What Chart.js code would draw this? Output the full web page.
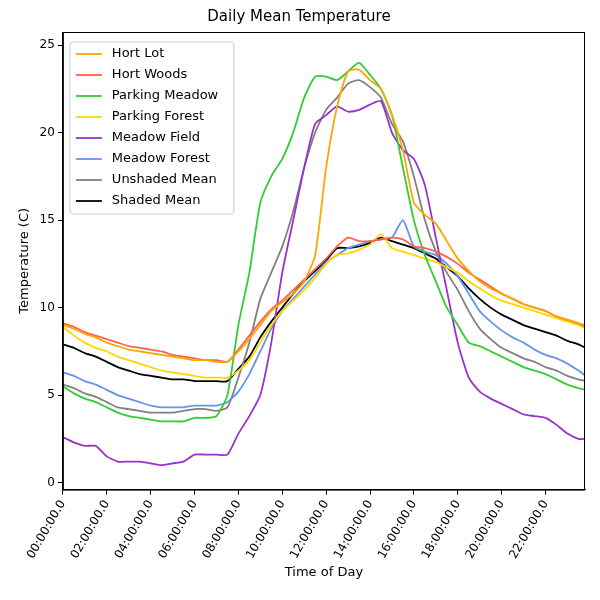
<!DOCTYPE html>
<html>
<head>
<meta charset="utf-8">
<script src="https://cdn.jsdelivr.net/npm/chart.js"></script>
<style>
  html, body { margin: 0; padding: 0; background: #fff; }
  #wrap { width: 600px; height: 600px; }
</style>
</head>
<body>
<div id="wrap"><canvas id="c" width="600" height="600"></canvas></div>
<script>
// half-hour samples, hours since midnight
const hours = [];
for (let i = 0; i < 48; i++) hours.push(i / 2);
hours.push(23.83);

const hortLot = [9.0,8.8,8.5,8.3,8.0,7.8,7.6,7.5,7.4,7.3,7.2,7.1,7.0,7.0,6.9,6.9,7.5,8.2,9.0,9.8,10.3,10.8,11.5,13.0,18.0,21.5,23.5,23.6,23.0,22.5,21.0,19.0,16.0,15.3,14.8,13.8,12.8,12.1,11.5,11.1,10.8,10.5,10.2,10.0,9.8,9.5,9.3,9.1,9.0];
const hortWoods = [9.1,8.9,8.6,8.4,8.2,8.0,7.8,7.7,7.6,7.5,7.3,7.2,7.1,7.0,7.0,6.9,7.6,8.4,9.2,9.9,10.4,11.0,11.6,12.2,12.8,13.5,14.0,13.8,13.8,13.9,14.0,13.9,13.5,13.4,13.2,12.9,12.5,12.0,11.6,11.2,10.8,10.5,10.2,10.0,9.8,9.5,9.3,9.1,8.9];
const parkingMeadow = [5.5,5.1,4.8,4.6,4.3,4.0,3.8,3.7,3.6,3.5,3.5,3.5,3.7,3.7,3.8,5.0,9.0,12.0,16.0,17.5,18.5,20.0,22.0,23.2,23.2,23.0,23.5,24.0,23.3,22.5,21.0,18.0,15.0,13.0,11.5,10.0,9.0,8.0,7.8,7.5,7.2,6.9,6.6,6.4,6.2,5.9,5.6,5.4,5.3];
const parkingForest = [8.9,8.4,8.0,7.7,7.5,7.2,7.0,6.8,6.6,6.4,6.3,6.2,6.1,6.0,6.0,6.0,6.4,7.0,8.0,9.0,9.8,10.4,11.0,11.7,12.5,13.0,13.1,13.3,13.6,14.2,13.4,13.2,13.0,12.8,12.6,12.3,12.0,11.5,11.1,10.7,10.4,10.2,10.0,9.8,9.6,9.4,9.2,9.0,8.8];
const meadowField = [2.6,2.3,2.1,2.1,1.5,1.2,1.2,1.2,1.1,1.0,1.1,1.2,1.6,1.6,1.6,1.6,2.8,3.8,5.0,8.0,12.0,15.0,18.0,20.5,21.0,21.5,21.2,21.3,21.6,21.8,20.0,19.0,18.5,17.0,14.0,11.0,8.0,6.0,5.2,4.8,4.5,4.2,3.9,3.8,3.7,3.3,2.8,2.5,2.5];
const meadowForest = [6.3,6.1,5.8,5.6,5.3,5.0,4.8,4.6,4.4,4.3,4.3,4.3,4.4,4.4,4.4,4.6,5.2,6.2,7.5,8.8,9.8,10.5,11.2,11.9,12.6,13.0,13.4,13.6,13.8,13.9,14.0,15.0,13.5,13.2,13.0,12.5,11.8,10.8,9.8,9.2,8.7,8.3,8.0,7.6,7.3,7.1,6.8,6.4,6.1];
const unshadedMean = [5.6,5.4,5.1,4.9,4.6,4.3,4.2,4.1,4.0,4.0,4.0,4.1,4.2,4.2,4.1,4.3,6.0,8.0,10.5,12.0,13.5,15.5,18.0,20.0,21.3,22.0,22.8,23.0,22.6,22.0,20.5,19.5,17.5,15.0,13.2,12.0,11.0,9.8,8.8,8.2,7.7,7.4,7.1,6.9,6.6,6.4,6.1,5.9,5.8];
const shadedMean = [7.9,7.7,7.4,7.2,6.9,6.6,6.4,6.2,6.1,6.0,5.9,5.9,5.8,5.8,5.8,5.8,6.5,7.2,8.3,9.2,10.0,10.8,11.5,12.1,12.7,13.4,13.4,13.5,13.7,14.0,13.8,13.6,13.4,13.1,12.8,12.3,11.8,11.1,10.5,10.0,9.6,9.3,9.0,8.8,8.6,8.4,8.1,7.9,7.7];

const seriesNames = ['Hort Lot','Hort Woods','Parking Meadow','Parking Forest','Meadow Field','Meadow Forest','Unshaded Mean','Shaded Mean'];
const seriesData = [hortLot, hortWoods, parkingMeadow, parkingForest, meadowField, meadowForest, unshadedMean, shadedMean];
const seriesColors = ['#ffa500','#ff6347','#32cd32','#ffd700','#9932cc','#6495ed','#808080','#000000'];
const xTicks = [0,2,4,6,8,10,12,14,16,18,20,22];

const FONT = 'DejaVu Sans';
Chart.defaults.font.family = FONT;
Chart.defaults.color = '#000';

// matplotlib-style legend inside the plot, upper left, plus full frame
const innerLegend = {
  id: 'innerLegend',
  afterDraw(chart){
    const ctx = chart.ctx, a = chart.chartArea;
    ctx.save();
    ctx.strokeStyle = '#000'; ctx.lineWidth = 1;
    ctx.strokeRect(a.left + 0.5, a.top + 0.5, a.right - a.left - 1, a.bottom - a.top);
    const x0 = a.left + 7, y0 = a.top + 10, rowH = 21, w = 164;
    const h = rowH * seriesNames.length + 4;
    ctx.fillStyle = 'rgba(255,255,255,0.8)';
    ctx.strokeStyle = '#ccc';
    ctx.beginPath();
    ctx.roundRect(x0, y0, w, h, 3);
    ctx.fill(); ctx.stroke();
    ctx.font = '13px ' + FONT;
    ctx.textBaseline = 'middle';
    seriesNames.forEach((n, i) => {
      const y = y0 + 12 + i * rowH;
      ctx.strokeStyle = seriesColors[i];
      ctx.lineWidth = 1.8;
      ctx.beginPath(); ctx.moveTo(x0 + 6, y); ctx.lineTo(x0 + 32, y); ctx.stroke();
      ctx.fillStyle = '#000';
      ctx.fillText(n, x0 + 42, y);
    });
    ctx.restore();
  }
};

new Chart(document.getElementById('c'), {
  type: 'line',
  data: {
    datasets: seriesNames.map((n, i) => ({
      label: n,
      data: seriesData[i].map((v, j) => ({x: hours[j], y: v})),
      borderColor: seriesColors[i],
      borderWidth: 1.8,
      pointRadius: 0,
      tension: 0.2,
      fill: false
    }))
  },
  options: {
    responsive: false,
    animation: false,
    layout: { padding: { left: 13, right: 15, top: 6, bottom: 16 } },
    plugins: {
      legend: { display: false },
      tooltip: { enabled: false },
      title: { display: true, text: 'Daily Mean Temperature', font: { size: 15, weight: 'normal' }, padding: { top: 2, bottom: 6 } }
    },
    scales: {
      x: {
        type: 'linear', min: 0, max: 23.8,
        afterBuildTicks(s){ s.ticks = xTicks.map(v => ({value: v})); },
        ticks: {
          minRotation: 60, maxRotation: 60, font: { size: 12 },
          callback: v => String(v).padStart(2, '0') + ':00:00.0'
        },
        grid: { drawOnChartArea: false, tickLength: 5, color: '#000' },
        border: { color: '#000' },
        title: { display: true, text: 'Time of Day', font: { size: 13 }, padding: { top: 0 } }
      },
      y: {
        min: -0.4, max: 25.75,
        afterBuildTicks(s){ s.ticks = [0,5,10,15,20,25].map(v => ({value: v})); },
        ticks: { font: { size: 12 } },
        grid: { drawOnChartArea: false, tickLength: 5, color: '#000' },
        border: { color: '#000' },
        title: { display: true, text: 'Temperature (C)', font: { size: 13 } }
      }
    }
  },
  plugins: [innerLegend]
});
</script>
</body>
</html>
